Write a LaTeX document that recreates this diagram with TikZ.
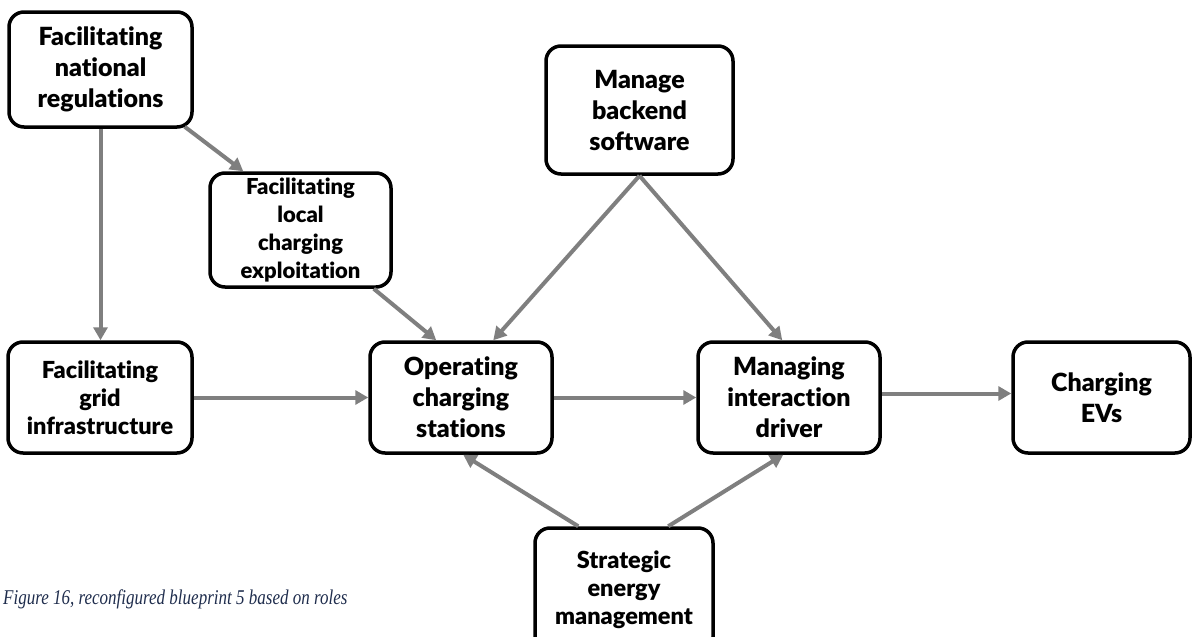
\documentclass[tikz,border=0pt]{standalone}
\usepackage{fontspec}
\setmainfont{Lato}[BoldFont={Lato Black}, Ligatures=NoCommon]
\newfontfamily\capfont{Liberation Serif}
\usetikzlibrary{arrows.meta,calc}
\definecolor{arrowgray}{HTML}{7F7F7F}
\definecolor{captionblue}{HTML}{1F2D4D}
\begin{document}
\begin{tikzpicture}[x=1pt,y=-1pt,
  role/.style={draw=black, line width=3.5pt, rounded corners=15pt, fill=white,
    align=center, inner sep=0pt, font=\bfseries\fontsize{25}{31}\selectfont},
  rolesmall/.style={role, font=\bfseries\fontsize{22}{28}\selectfont},
  rolemid/.style={role, font=\bfseries\fontsize{23.5}{28}\selectfont},
  flow/.style={draw=arrowgray, line width=4pt, -{Triangle[length=13pt,width=14pt]}},
]
\clip (0,0) rectangle (1192,637);

% roles
\node[role, minimum width=183pt, minimum height=115pt] (nat) at (100.5,69.5)
  {Facilitating\\national\\regulations};
\node[rolesmall, minimum width=181pt, minimum height=114pt] (loc) at (300.5,230)
  {Facilitating\\local\\charging\\exploitation};
\node[role, minimum width=187pt, minimum height=128pt] (back) at (639.5,110)
  {Manage\\backend\\software};
\node[rolemid, minimum width=184pt, minimum height=111pt] (grid) at (100,397.5)
  {Facilitating\\grid\\infrastructure};
\node[role, minimum width=182pt, minimum height=111pt] (op) at (461,397.5)
  {Operating\\charging\\stations};
\node[role, minimum width=182pt, minimum height=111pt] (man) at (789,397.5)
  {Managing\\interaction\\driver};
\node[role, minimum width=177pt, minimum height=111pt] (ev) at (1101.5,397.5)
  {Charging\\EVs};
\node[rolemid, minimum width=178pt, minimum height=124pt] (strat) at (624,590)
  {Strategic\\energy\\management};

% flows between roles
\draw[flow] (nat.south) -- (nat.south |- grid.north);
\draw[flow] ($(nat.south east)+(-9,-2)$) -- ($(loc.north west)+(35,0)$);
\draw[flow] ($(loc.south east)+(-19,0)$) -- ($(op.north west)+(68,0)$);
\draw[flow] (back.south) -- ($(op.north west)+(125,0)$);
\draw[flow] (back.south) -- ($(man.north west)+(86,0)$);
\draw[flow] (grid.east) -- (op.west);
\draw[flow] (op.east) -- (man.west);
\draw[flow] ($(man.east)+(0,-4)$) -- ($(ev.west)+(0,-4)$);
\draw[flow] ($(strat.north west)+(45,0)$) -- ($(op.south west)+(95,0)$);
\draw[flow] ($(strat.north west)+(135,0)$) -- ($(man.south west)+(87,0)$);

% caption
\node[anchor=base west, inner sep=0pt, text=captionblue,
  font=\capfont\itshape\fontsize{21}{24}\selectfont] (cap) at (3,604)
  {\scalebox{0.81}[1]{Figure 16, reconfigured blueprint 5 based on roles}};
\end{tikzpicture}
\end{document}
